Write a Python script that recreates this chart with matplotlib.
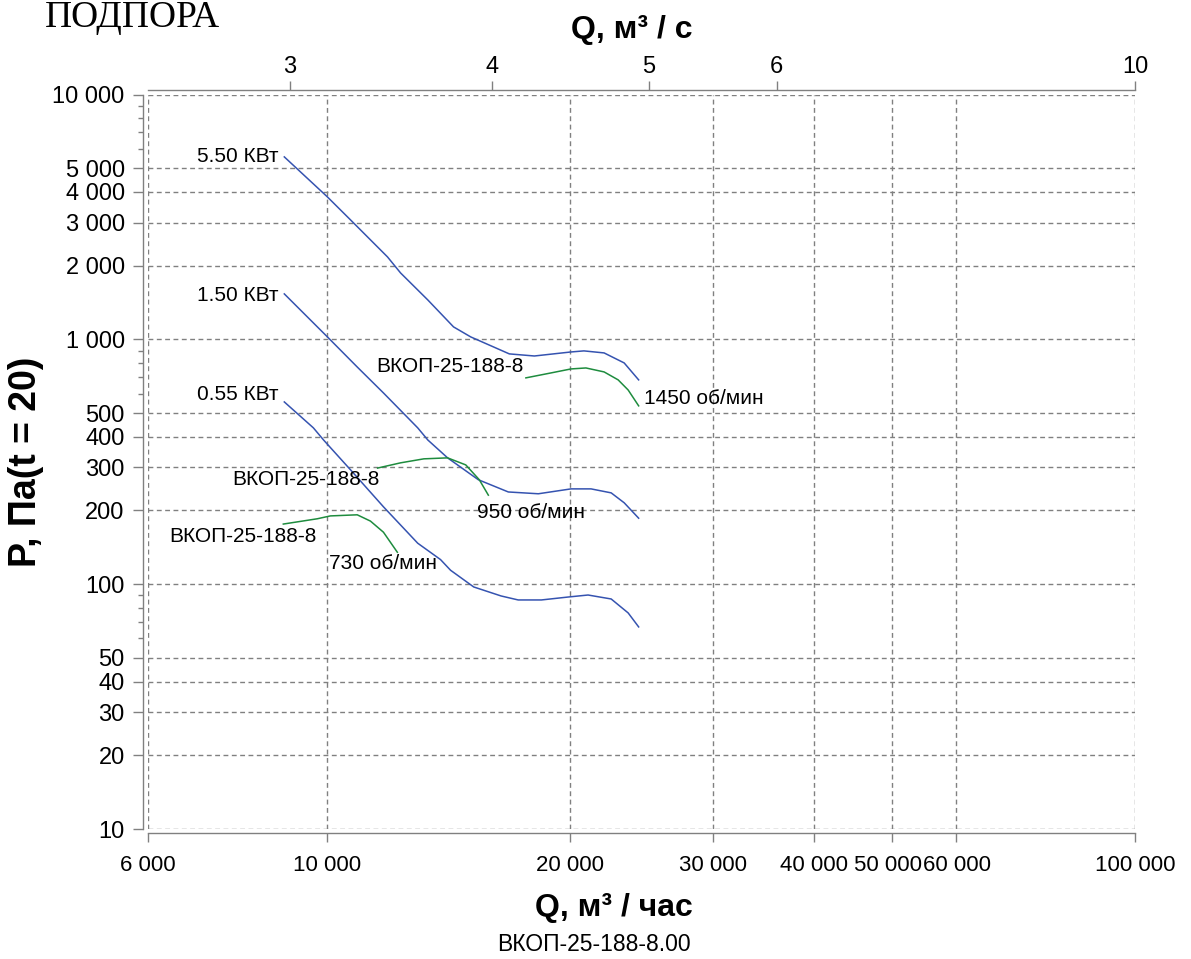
import matplotlib
matplotlib.use('Agg')
import matplotlib.pyplot as plt
from matplotlib.ticker import FixedLocator, FixedFormatter, NullLocator
from matplotlib.transforms import ScaledTranslation

plt.rcParams['font.family'] = ['Liberation Sans', 'DejaVu Sans']

# ---------------- data ----------------
# 1450 rpm, fan curve (blue, 5.50 kW)
q_1450_fan = [8849, 10006, 10688, 11875, 12326, 13322, 14335, 15055, 16806, 18049, 20035, 20788, 22019, 23314, 24296]
p_1450_fan = [5561, 3816, 3074, 2171, 1867, 1448, 1124, 1023, 872, 855, 888, 897, 880, 801, 683]
# 1450 rpm, working zone (green)
q_1450_work = [17618, 18921, 20035, 20906, 22019, 22918, 23581, 24296]
p_1450_work = [696, 729, 757, 764, 736, 683, 621, 535]

# 950 rpm (blue, 1.50 kW)
q_950_fan = [8849, 10006, 10893, 11739, 12943, 13322, 14094, 15385, 16757, 18254, 20035, 21214, 22466, 23314, 24296]
p_950_fan = [1533, 1023, 771, 604, 435, 388, 328, 267, 238, 234, 245, 245, 236, 215, 186]
q_950_work = [11544, 12326, 13172, 14094, 14843, 15427, 15830]
p_950_work = [298, 313, 325, 328, 307, 267, 231]

# 730 rpm (blue, 0.55 kW)
q_730_fan = [8849, 9613, 9897, 10688, 11739, 12943, 13813, 14213, 15184, 16416, 17235, 18414, 19866, 21034, 22466, 23581, 24296]
p_730_fan = [555, 435, 388, 293, 207, 147, 126, 114, 97.4, 89.5, 86.2, 86.2, 88.6, 90.3, 87.0, 76.3, 66.9]
q_730_work = [8824, 9724, 10089, 10893, 11311, 11739, 12213]
p_730_work = [176, 185, 190, 192, 181, 163, 135]

# tick values
x_ticks = [6000, 10000, 20000, 30000, 40000, 50000, 60000, 100000]
y_ticks = [10, 20, 30, 40, 50, 100, 200, 300, 400, 500, 1000, 2000, 3000, 4000, 5000, 10000]
y_minor = [60, 70, 80, 90, 600, 700, 800, 900, 6000, 7000, 8000, 9000]
top_ticks = [3, 4, 5, 6, 10]

# annotations: (text, x, y)
power_labels = [("5.50 КВт", 8704, 5561), ("1.50 КВт", 8704, 1504), ("0.55 КВт", 8704, 593)]
model_labels = [("ВКОП-25-188-8", 17521, 771), ("ВКОП-25-188-8", 11614, 267), ("ВКОП-25-188-8", 9692, 157)]
speed_labels = [("1450 об/мин", 24670, 571), ("950 об/мин", 15338, 197), ("730 об/мин", 10062, 122)]


def fmt(v):
    return f"{v:,}".replace(",", " ")


W, H = 1191, 959
fig = plt.figure(figsize=(W / 100, H / 100), dpi=100)
L, R, T, B = 148, 1135, 94.5, 829
ax = fig.add_axes([L / W, 1 - B / H, (R - L) / W, (B - T) / H])

BLUE = '#3553b0'
GREEN = '#1e8c3e'
GRAY = '#808080'

ax.set_xscale('log')
ax.set_yscale('log')
ax.set_xlim(6000, 100000)
ax.set_ylim(10, 10000)

for q, p in [(q_1450_fan, p_1450_fan), (q_950_fan, p_950_fan), (q_730_fan, p_730_fan)]:
    ax.plot(q, p, color=BLUE, lw=1.1, zorder=3)
for q, p in [(q_1450_work, p_1450_work), (q_950_work, p_950_work), (q_730_work, p_730_work)]:
    ax.plot(q, p, color=GREEN, lw=1.1, zorder=3)

ax.xaxis.set_major_locator(FixedLocator(x_ticks))
ax.xaxis.set_major_formatter(FixedFormatter([fmt(v) for v in x_ticks]))
ax.xaxis.set_minor_locator(NullLocator())
ax.yaxis.set_major_locator(FixedLocator(y_ticks))
ax.yaxis.set_major_formatter(FixedFormatter([fmt(v) for v in y_ticks]))
ax.yaxis.set_minor_locator(FixedLocator(y_minor))

ax.grid(True, which='major', color=GRAY, linestyle=(0, (3.5, 2.5)), linewidth=1.0)
for ln in ax.get_xgridlines() + ax.get_ygridlines():
    ln.set_clip_on(False)

for s in ['top', 'right']:
    ax.spines[s].set_visible(False)
ax.spines['left'].set_position(('outward', 3.6))
ax.spines['bottom'].set_position(('outward', 3.0))
for s in ['left', 'bottom']:
    ax.spines[s].set_color(GRAY)
    ax.spines[s].set_linewidth(1.0)

ax.tick_params(axis='y', which='major', length=7.2, width=1.0, color=GRAY, labelsize=17, pad=6)
ax.tick_params(axis='y', which='minor', length=3.6, width=1.0, color=GRAY)
ax.tick_params(axis='x', which='major', length=6.5, width=1.0, color=GRAY, labelsize=16, pad=9)

# nudge the crowded 50 000 / 60 000 labels apart a little, as in the reference
xt = ax.xaxis.get_major_ticks()
for idx, dx in [(5, -4), (6, 1)]:
    lbl = xt[idx].label1
    lbl.set_transform(lbl.get_transform() + ScaledTranslation(dx / 100, 0, fig.dpi_scale_trans))

# top axis (m3/s)
ax2 = ax.twiny()
ax2.set_xscale('log')
ax2.set_xlim(2.4503, 10)
ax2.xaxis.set_major_locator(FixedLocator(top_ticks))
ax2.xaxis.set_major_formatter(FixedFormatter([str(v) for v in top_ticks]))
ax2.xaxis.set_minor_locator(NullLocator())
for s in ['left', 'right', 'bottom']:
    ax2.spines[s].set_visible(False)
ax2.spines['top'].set_position(('outward', 3.6))
ax2.spines['top'].set_color(GRAY)
ax2.spines['top'].set_linewidth(1.0)
ax2.tick_params(axis='x', which='major', length=6.5, width=1.0, color=GRAY, labelsize=17, pad=2)

# curve labels
for t, x, y in power_labels:
    ax.text(x, y, t, ha='right', va='center', fontsize=15, zorder=4)
for t, x, y in model_labels:
    ax.text(x, y, t, ha='right', va='center', fontsize=15, zorder=4)
for t, x, y in speed_labels:
    ax.text(x, y, t, ha='left', va='center', fontsize=15, zorder=4)

# axis titles and captions
fig.text(614 / W, 1 - 916 / H, "Q, м³ / час", ha='center', va='baseline', fontsize=23, fontweight='bold')
fig.text(632 / W, 1 - 38 / H, "Q, м³ / с", ha='center', va='baseline', fontsize=23, fontweight='bold')
fig.text(26 / W, 1 - 462 / H, "P, Па(t = 20)", ha='center', va='center', rotation=90, fontsize=27, fontweight='bold')
fig.text(594 / W, 1 - 951 / H, "ВКОП-25-188-8.00", ha='center', va='baseline', fontsize=16.5)
fig.text(45 / W, 1 - 27 / H, "ПОДПОРА", ha='left', va='baseline', fontsize=27,
         family=['Liberation Serif', 'DejaVu Serif'])

fig.savefig('out.png', dpi=100)
